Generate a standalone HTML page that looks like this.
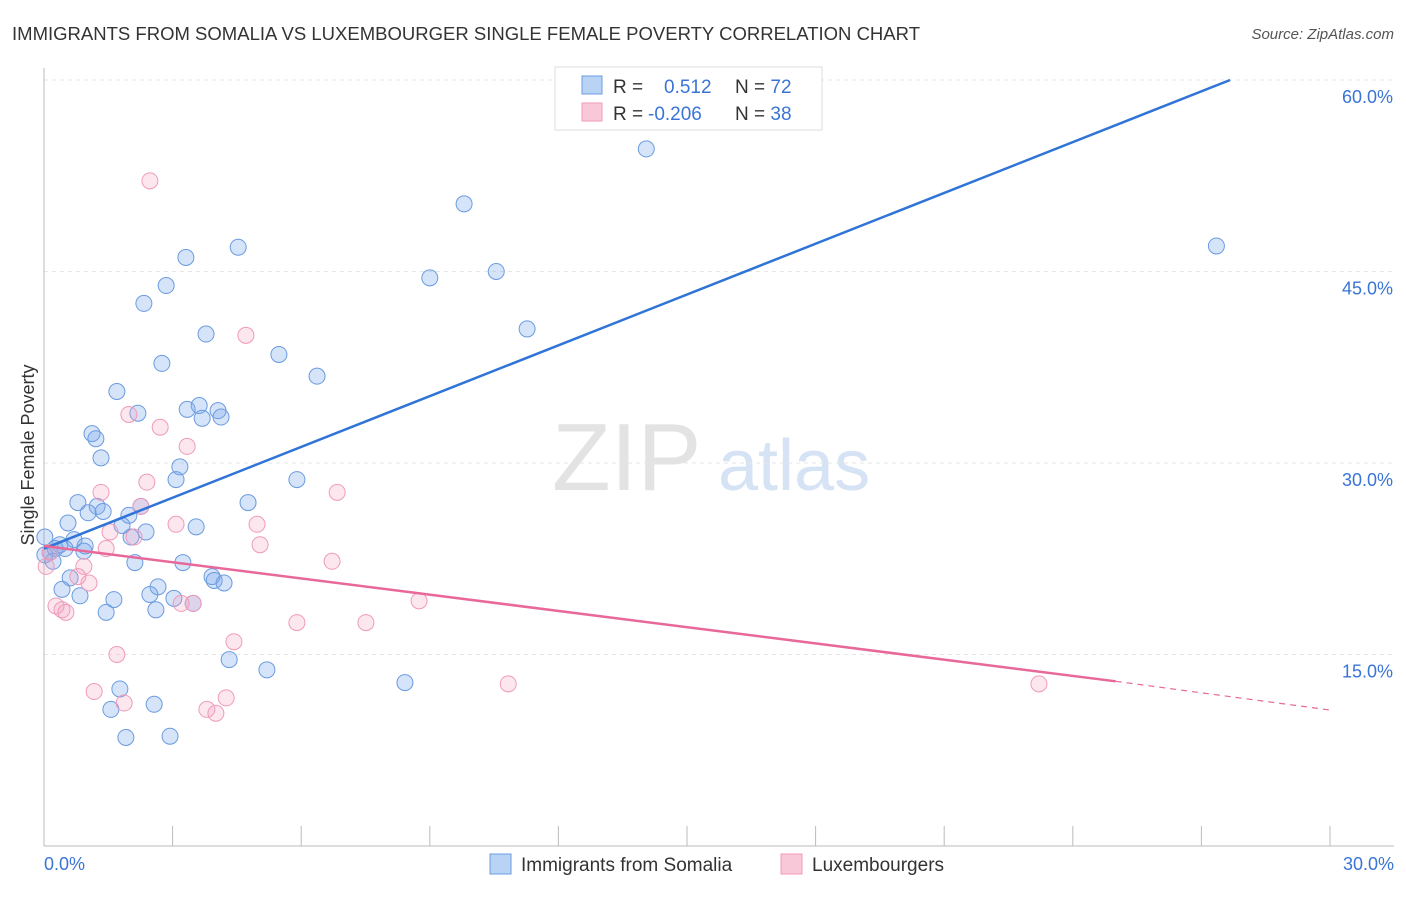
<!DOCTYPE html>
<html><head><meta charset="utf-8"><style>
body{margin:0;background:#fff;font-family:"Liberation Sans",sans-serif}
svg text{font-family:"Liberation Sans",sans-serif}
</style></head><body>
<svg id="chart" width="1406" height="892" viewBox="0 0 1406 892">
<text x="12" y="40" font-size="18" fill="#333" textLength="908" lengthAdjust="spacingAndGlyphs">IMMIGRANTS FROM SOMALIA VS LUXEMBOURGER SINGLE FEMALE POVERTY CORRELATION CHART</text>
<text x="1394" y="39" font-size="15" fill="#555" font-style="italic" text-anchor="end">Source: ZipAtlas.com</text>
<g>
<text x="552" y="490" font-size="96" font-family="Liberation Serif" fill="#e3e3e3">ZIP</text>
<text x="718" y="490" font-size="72" fill="#d6e3f5">atlas</text>
</g>
<g id="grid"></g>
<g id="axes"></g>
<text transform="translate(34,455) rotate(-90)" font-size="18" fill="#333" text-anchor="middle">Single Female Poverty</text>
<g id="pts"></g>
<g id="lines"></g>
<g>
<rect x="555" y="67" width="267" height="63" fill="#fff" stroke="#ddd"/>
<rect x="582" y="76" width="20" height="18" fill="#b9d3f5" stroke="#6a9be0"/>
<rect x="582" y="103" width="20" height="18" fill="#f8c8d8" stroke="#f09ab8"/>
<text x="613" y="93" font-size="19" fill="#333">R = <tspan fill="#3a74d6" x="664">0.512</tspan><tspan x="735" fill="#333">N = </tspan><tspan fill="#3a74d6">72</tspan></text>
<text x="613" y="120" font-size="19" fill="#333">R = <tspan fill="#3a74d6" x="648">-0.206</tspan><tspan x="735" fill="#333">N = </tspan><tspan fill="#3a74d6">38</tspan></text>
</g>
<g>
<rect x="490" y="854" width="21" height="20" fill="#b9d3f5" stroke="#6a9be0"/>
<text x="521" y="871" font-size="19" fill="#333">Immigrants from Somalia</text>
<rect x="781" y="854" width="21" height="20" fill="#f8c8d8" stroke="#f09ab8"/>
<text x="812" y="871" font-size="19" fill="#333">Luxembourgers</text>
</g>
</svg>
<script>
const yTicks=[15,30,45,60];
const yTickLabels=["15.0%","30.0%","45.0%","60.0%"];
const xTickLabels=["0.0%","30.0%"];
const blueX=[14.05,9.8,27.35,4.53,3.31,10.55,9.0,2.85,2.33,11.27,3.78,5.48,2.75,6.37,1.70,2.19,3.34,3.62,4.06,3.69,4.13,1.12,1.21,1.33,3.17,3.08,5.90,0.79,2.26,4.76,1.24,1.03,1.38,1.98,0.56,1.82,2.38,3.55,2.03,0.70,0.02,0.37,0.96,0.26,0.49,0.14,0.93,2.12,3.24,0.21,0.61,3.92,3.97,4.20,2.66,0.42,0.84,2.47,3.03,3.48,1.63,2.61,1.45,4.32,5.20,8.42,1.77,1.56,2.57,1.91,2.94,0.02];
const blueY=[54.6,50.3,47.0,46.9,46.1,45.0,44.5,43.9,42.5,40.5,40.1,38.5,37.8,36.8,35.6,33.9,34.2,34.5,34.1,33.5,33.6,32.3,31.9,30.4,29.7,28.7,28.7,26.9,26.6,26.9,26.6,26.1,26.2,25.9,25.3,25.1,24.6,25.0,24.2,24.0,24.2,23.6,23.5,23.3,23.3,23.0,23.1,22.2,22.2,22.3,21.0,21.1,20.8,20.6,20.3,20.1,19.6,19.7,19.4,19.0,19.3,18.5,18.3,14.6,13.8,12.8,12.3,10.7,11.1,8.5,8.6,22.8];
const pinkX=[2.47,4.71,1.98,2.71,3.34,1.33,2.40,6.84,2.26,4.97,3.08,1.54,2.10,5.04,1.45,0.14,0.05,0.93,0.79,1.05,6.72,0.28,0.42,0.51,8.75,3.20,3.48,5.90,7.51,4.43,1.70,1.17,1.87,4.25,3.80,4.01,10.83,23.21];
const pinkY=[52.1,40.0,33.8,32.8,31.3,27.7,28.5,27.7,26.6,25.2,25.2,24.6,24.2,23.6,23.3,23.0,21.9,21.9,21.1,20.6,22.3,18.8,18.5,18.3,19.2,19.0,19.0,17.5,17.5,16.0,15.0,12.1,11.2,11.6,10.7,10.4,12.7,12.7];
const blueLine=[0,23.3,27.67,60];
const pinkLine=[0,23.5,25.0,12.9,30,10.65];
const NS="http://www.w3.org/2000/svg";
const sx=v=>44+v/30*1286, sy=v=>846-v*12.767;
function mk(tag,attrs,parent){const e=document.createElementNS(NS,tag);for(const k in attrs)e.setAttribute(k,attrs[k]);parent.appendChild(e);return e;}
const grid=document.getElementById('grid'),axes=document.getElementById('axes'),pts=document.getElementById('pts'),lines=document.getElementById('lines');
yTicks.forEach((t,i)=>{
 const l=mk('line',{x1:44,x2:1394,y1:sy(t),y2:sy(t),stroke:'#e6e6e6','stroke-dasharray':'4,4'},grid);
 
 
 const tx=mk('text',{x:1393,y:sy(t)+23,'font-size':18,fill:'#3a74d6','text-anchor':'end'},axes);
 tx.textContent=yTickLabels[i];
 
 
});
const ax=mk('line',{x1:44,x2:1394,y1:846,y2:846,stroke:'#bbb'},axes);


const ay=mk('line',{x1:44,x2:44,y1:68,y2:846,stroke:'#bbb'},axes);


for(let i=0;i<=10;i++){
 const t=mk('line',{x1:sx(i*3),x2:sx(i*3),y1:826,y2:846,stroke:'#bbb'},axes);
 
 
}
[[0,'start',xTickLabels[0]],[30,'end',xTickLabels[1]]].forEach(([v,a,s])=>{
 const tx=mk('text',{x:v==0?44:1394,y:870,'font-size':18,fill:'#3a74d6','text-anchor':a},axes);
 tx.textContent=s;
 
 
});
blueX.forEach((x,i)=>{
 const c=mk('circle',{cx:sx(x),cy:sy(blueY[i]),r:8,fill:'rgba(120,165,235,0.3)',stroke:'#6a9be0','stroke-width':1},pts);
 
 
});
pinkX.forEach((x,i)=>{
 const c=mk('circle',{cx:sx(x),cy:sy(pinkY[i]),r:8,fill:'rgba(245,160,190,0.25)',stroke:'#f09ab8','stroke-width':1},pts);
 
 
});
const bl=mk('line',{x1:sx(blueLine[0]),y1:sy(blueLine[1]),x2:sx(blueLine[2]),y2:sy(blueLine[3]),stroke:'#2f74d6','stroke-width':2.5},lines);


const pl=mk('line',{x1:sx(pinkLine[0]),y1:sy(pinkLine[1]),x2:sx(pinkLine[2]),y2:sy(pinkLine[3]),stroke:'#e8689a','stroke-width':2.5},lines);


const pd=mk('line',{x1:sx(pinkLine[2]),y1:sy(pinkLine[3]),x2:sx(pinkLine[4]),y2:sy(pinkLine[5]),stroke:'#e8689a','stroke-width':1.2,'stroke-dasharray':'6,5'},lines);


</script>
</body></html>
